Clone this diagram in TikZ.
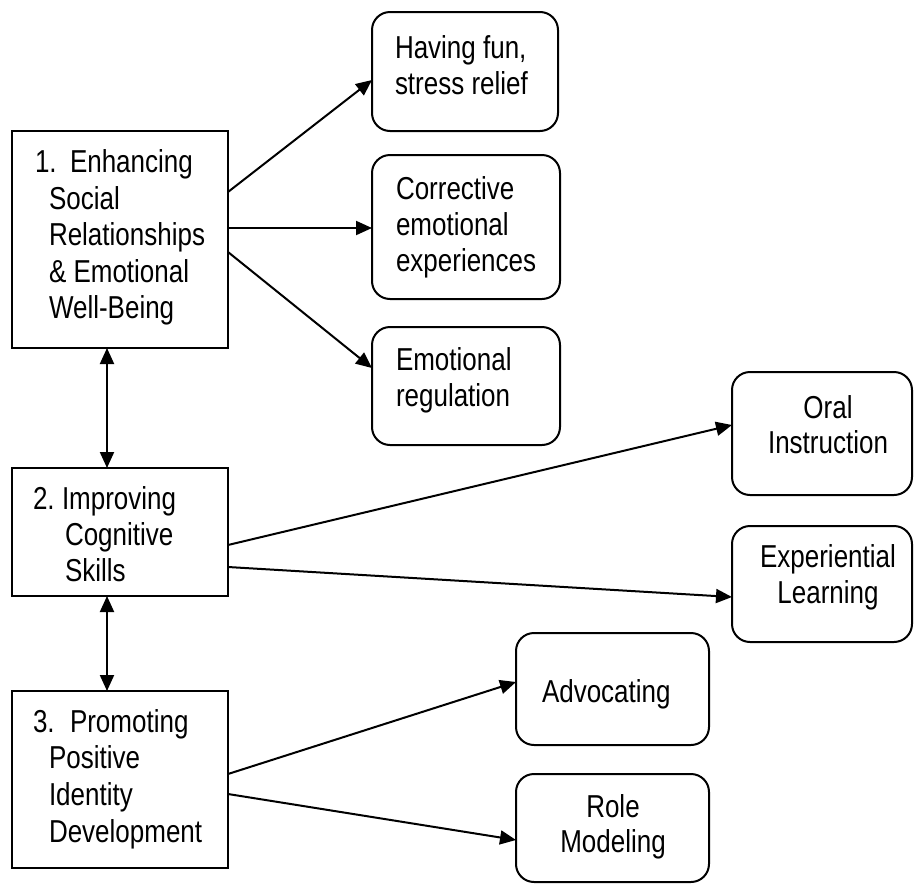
\documentclass[tikz,border=0pt]{standalone}
\usepackage{fontspec}
\setmainfont[FakeStretch=0.82]{Liberation Sans}
\usetikzlibrary{arrows.meta}
\tikzset{
  sqbox/.style={draw, line width=2pt, rectangle, inner sep=0pt, outer sep=0pt, anchor=north west},
  rbox/.style={sqbox, rounded corners=18pt},
  txt/.style={inner sep=0pt, outer sep=0pt, anchor=base west, font=\fontsize{31.7}{36.5}\selectfont},
  ctxt/.style={txt, anchor=base},
  conn/.style={line width=2pt, -{Triangle[length=16pt,width=14pt]}},
  biconn/.style={line width=2pt, {Triangle[length=16pt,width=14pt]}-{Triangle[length=16pt,width=14pt]}}
}
\begin{document}
\begin{tikzpicture}[x=1pt,y=-1pt]
\useasboundingbox (0,0) rectangle (914,884);
% left boxes
\node[sqbox, minimum width=216pt, minimum height=217pt] (b1) at (12,131) {};
\node[sqbox, minimum width=216pt, minimum height=128pt] (b2) at (12,468) {};
\node[sqbox, minimum width=216pt, minimum height=177pt] (b3) at (12,691) {};
% right boxes
\node[rbox, minimum width=186pt, minimum height=119pt] (hav) at (372,12) {};
\node[rbox, minimum width=188pt, minimum height=144pt] (cor) at (372,155) {};
\node[rbox, minimum width=188pt, minimum height=118pt] (emo) at (372,327) {};
\node[rbox, minimum width=180pt, minimum height=123pt] (oral) at (732,372) {};
\node[rbox, minimum width=180pt, minimum height=116pt] (exp) at (732,526) {};
\node[rbox, minimum width=193pt, minimum height=112pt] (adv) at (516,633) {};
\node[rbox, minimum width=193pt, minimum height=108pt] (role) at (516,774) {};
% texts box 1
\node[txt] (t1n) at (35,172) {1.};
\node[txt] (t1a) at (70,172) {Enhancing};
\node[txt] (t1b) at (49,209) {Social};
\node[txt] (t1c) at (49,245) {Relationships};
\node[txt] (t1d) at (49,282) {\& Emotional};
\node[txt] (t1e) at (49,318) {Well-Being};
% box 2
\node[txt] (t2n) at (33,509) {2.};
\node[txt] (t2a) at (62,509) {Improving};
\node[txt] (t2b) at (65,545) {Cognitive};
\node[txt] (t2c) at (65,581) {Skills};
% box 3
\node[txt] (t3n) at (33,732) {3.};
\node[txt] (t3a) at (70,732) {Promoting};
\node[txt] (t3b) at (49,768) {Positive};
\node[txt] (t3c) at (49,805) {Identity};
\node[txt] (t3d) at (49,842) {Development};
% right texts
\node[txt] (th1) at (395,58) {Having fun,};
\node[txt] (th2) at (395,94) {stress relief};
\node[txt] (tc1) at (396,199) {Corrective};
\node[txt] (tc2) at (396,235) {emotional};
\node[txt] (tc3) at (396,271) {experiences};
\node[txt] (te1) at (396,370) {Emotional};
\node[txt] (te2) at (396,406) {regulation};
\node[ctxt] (to1) at (828,418) {Oral};
\node[ctxt] (to2) at (828,453) {Instruction};
\node[ctxt] (tx1) at (828,567) {Experiential};
\node[ctxt] (tx2) at (828,603) {Learning};
\node[txt] (ta1) at (542,702) {Advocating};
\node[ctxt] (tr1) at (613,817) {Role};
\node[ctxt] (tr2) at (613,852) {Modeling};
% connectors
\draw[conn] ([yshift=-61pt]b1.north east) -- ([yshift=-68pt]hav.north west);
\draw[conn] ([yshift=-97pt]b1.north east) -- ([yshift=-73pt]cor.north west);
\draw[conn] ([yshift=-121pt]b1.north east) -- ([yshift=-41pt]emo.north west);
\draw[conn] ([yshift=-77pt]b2.north east) -- ([yshift=-53pt]oral.north west);
\draw[conn] ([yshift=-99pt]b2.north east) -- ([yshift=-71pt]exp.north west);
\draw[conn] ([yshift=-83pt]b3.north east) -- ([yshift=-49pt]adv.north west);
\draw[conn] ([yshift=-103pt]b3.north east) -- ([yshift=-66pt]role.north west);
\draw[biconn] ([xshift=-13pt]b1.south) -- ([xshift=-13pt]b2.north);
\draw[biconn] ([xshift=-13pt]b2.south) -- ([xshift=-13pt]b3.north);
\end{tikzpicture}
\end{document}
